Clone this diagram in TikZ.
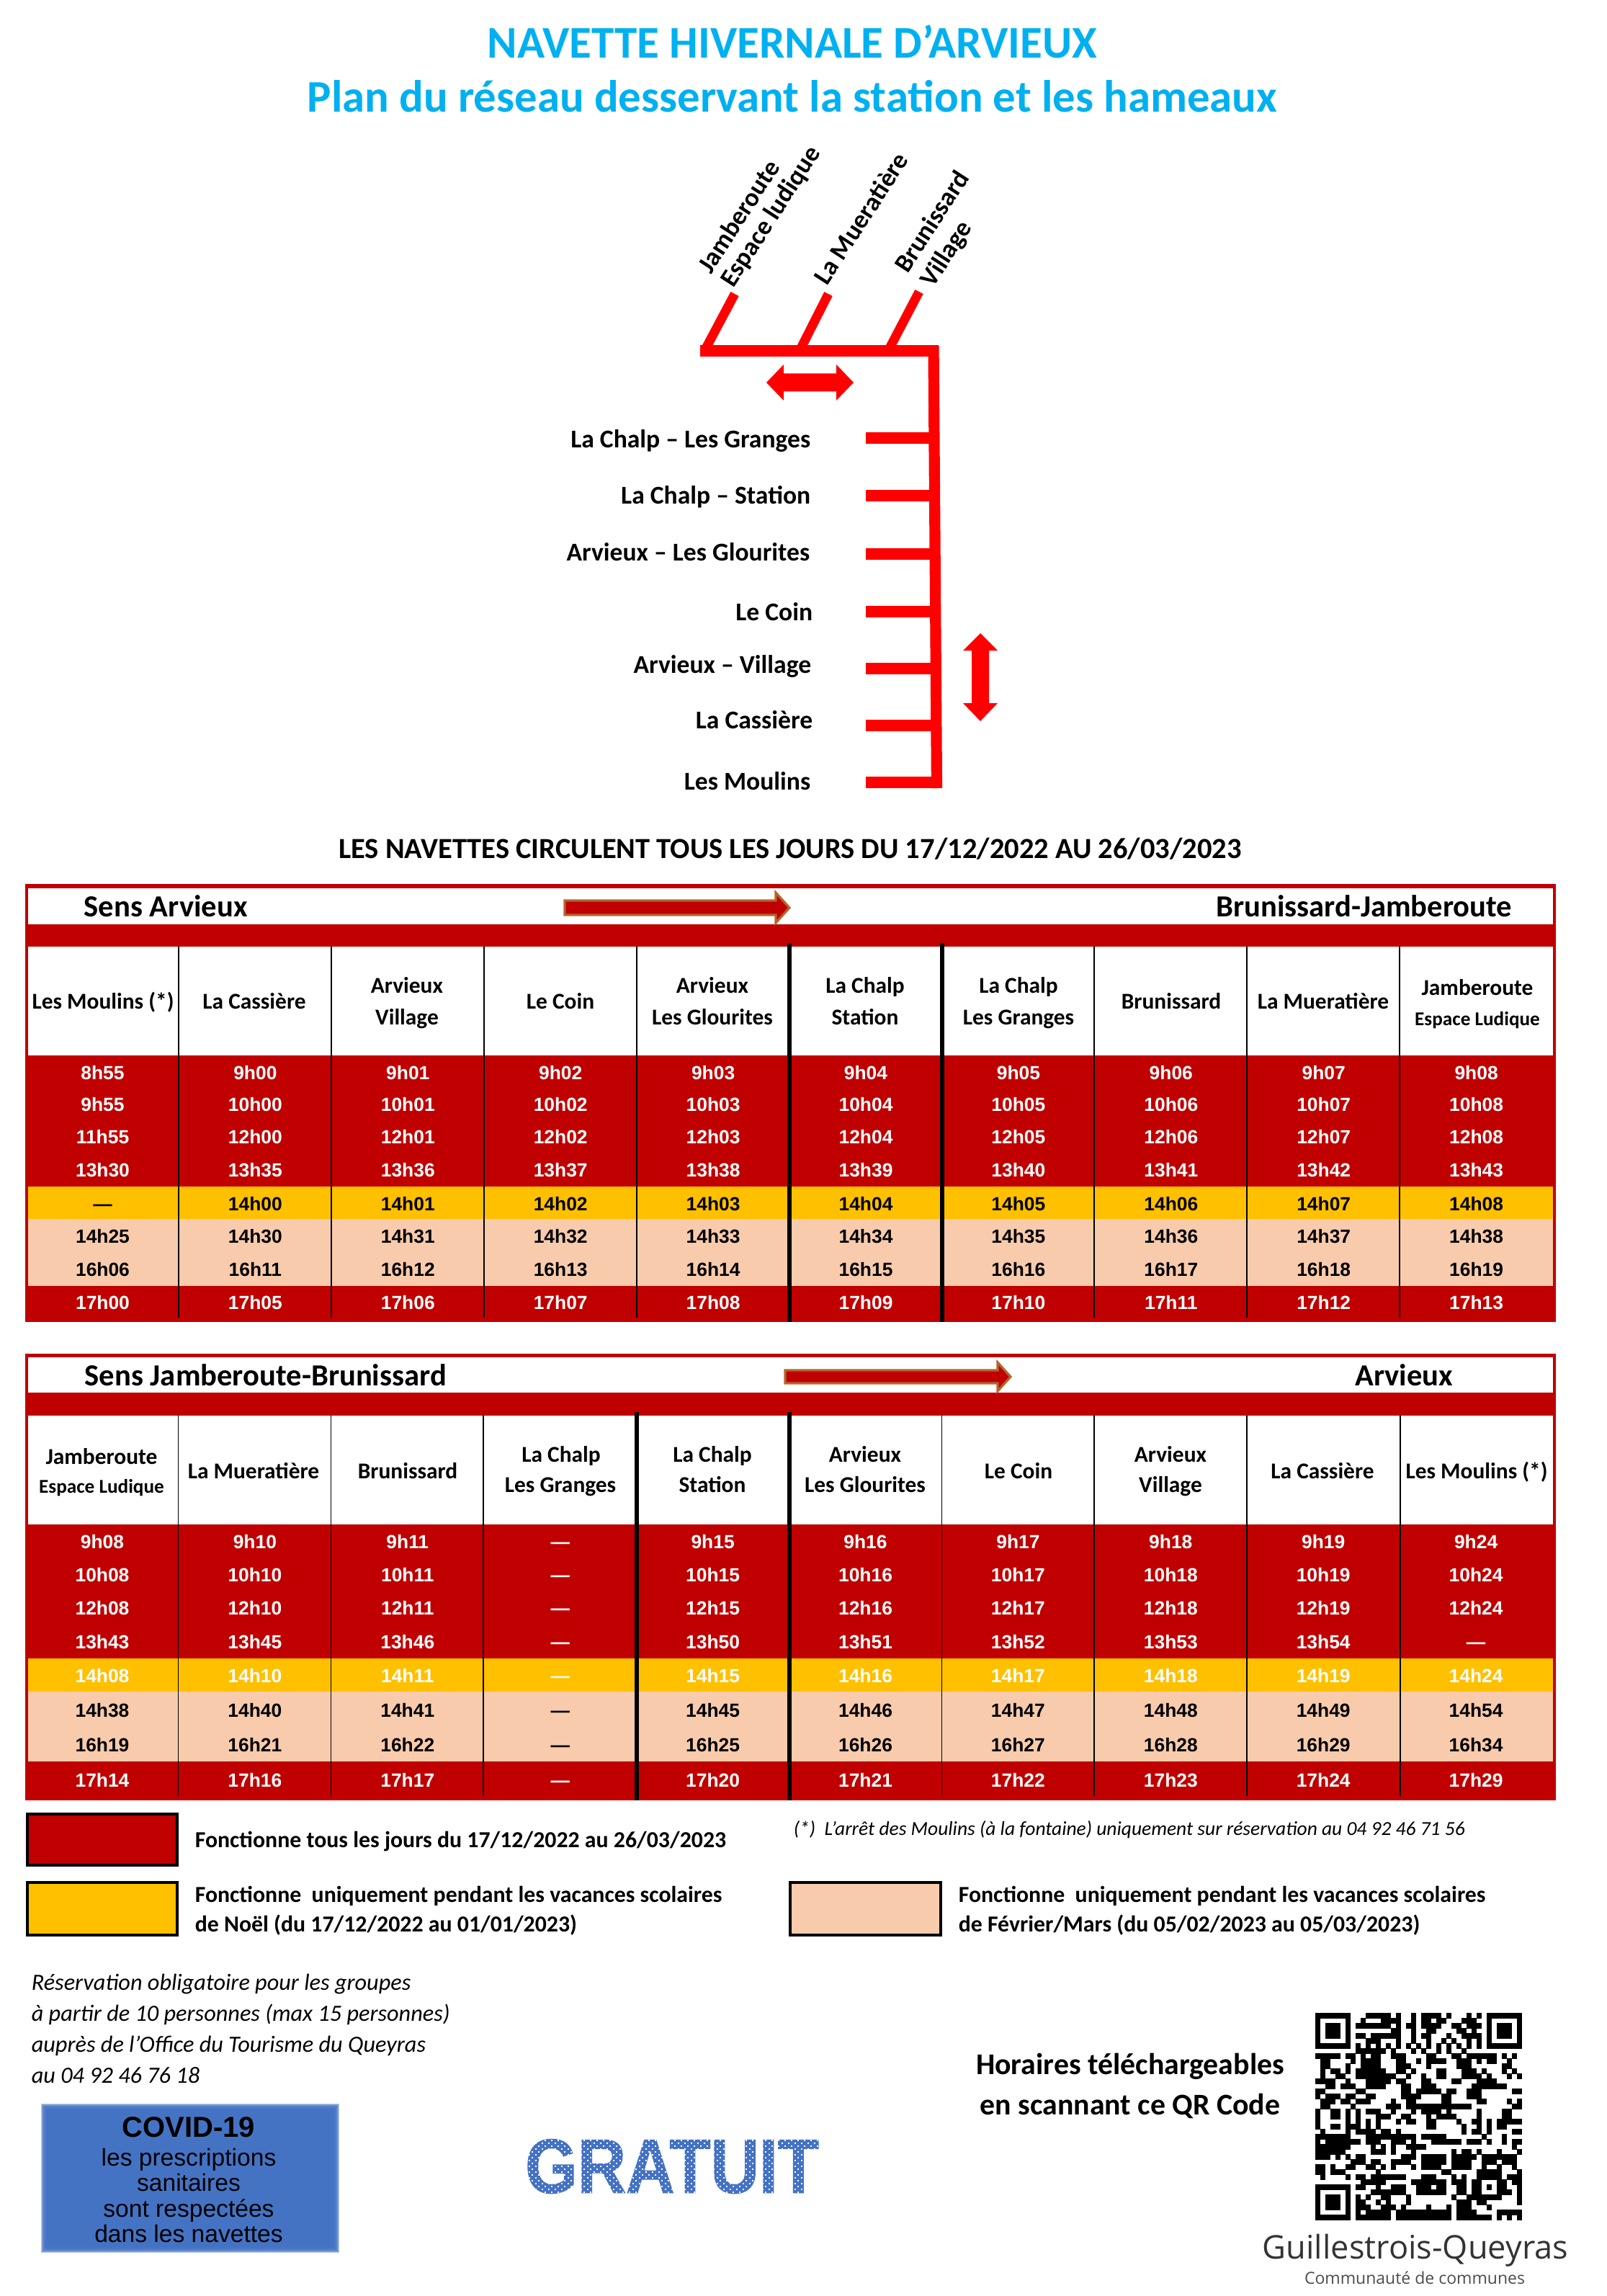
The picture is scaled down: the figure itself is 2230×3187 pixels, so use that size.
\documentclass[tikz,border=0pt]{standalone}
\usepackage{fontspec}
\setmainfont{Carlito}
\newfontfamily\arialf{Liberation Sans}
\newfontfamily\logof{Open Sans}
\definecolor{brick}{HTML}{C00000}
\definecolor{amber}{HTML}{FFC000}
\definecolor{peach}{HTML}{F8CBAD}
\definecolor{sky}{HTML}{00B0F0}
\definecolor{rawred}{HTML}{FF0000}
\definecolor{rust}{HTML}{B5652B}
\definecolor{cobalt}{HTML}{4472C4}
\newcommand{\fs}[1]{\fontsize{#1}{#1}\selectfont}
\newcount\qrcol
\newcount\qrline
\def\qrscan#1{\ifx#1\relax\else\if#11\fill[black] (\the\qrcol,\the\qrline) rectangle +(1.02,1.02);\fi\advance\qrcol by 1 \expandafter\qrscan\fi}
\def\qrrow#1{\qrcol=0 \qrscan#1\relax\advance\qrline by 1 }
\tikzset{
  timecell/.style={inner sep=0pt,font=\arialf\bfseries\fs{6.6},text height=4.75pt,text depth=0pt,anchor=center},
  hdr/.style={inner sep=0pt,font=\bfseries\fs{7.85},text height=5pt,text depth=0pt,anchor=center},
  hdrsmall/.style={hdr,font=\bfseries\fs{6.8}},
  sect/.style={inner sep=0pt,font=\bfseries\fs{10.65},text height=6.8pt,text depth=0pt},
  maplabel/.style={inner sep=0pt,font=\bfseries\fs{8.9},text height=5.7pt,text depth=0pt,anchor=east},
  rotlabel/.style={inner sep=0pt,font=\bfseries\fs{9},rotate=57,anchor=center},
  legend/.style={inner sep=0pt,font=\bfseries\fs{7.95},text height=5pt,text depth=0pt,anchor=west},
  noteital/.style={inner sep=0pt,font=\itshape\fs{8.07},text height=5.2pt,text depth=0pt,anchor=west},
  thinrule/.style={line width=0.4pt,black},
  thickrule/.style={line width=1.5pt,black},
  redline/.style={line width=3.8pt,rawred},
  legbox/.style={draw=black,line width=1.2pt},
  dirarrow/.style={fill=brick,draw=rust,line width=0.8pt,miter limit=4},
  covidtxt/.style={inner sep=0pt,font=\arialf\fs{8.4},text height=4.5pt,text depth=0pt},
}
\begin{document}
\begin{tikzpicture}[x=0.25pt,y=-0.25pt]
\useasboundingbox (0,0) rectangle (2230,3187);
% titles
\node[inner sep=0pt,font=\bfseries\fs{15.75},text=sky] (title1) at (1100,58) {NAVETTE HIVERNALE D’ARVIEUX};
\node[inner sep=0pt,font=\bfseries\fs{15.7},text=sky] (title2) at (1100,134) {Plan du réseau desservant la station et les hameaux};
% map
\coordinate (tl) at (972,487);
\coordinate (tr) at (1303,487);
\coordinate (vt) at (1296,480);
\coordinate (vb) at (1300.5,1094);
\coordinate (b1a) at (978,487); \coordinate (b1b) at (1020,408);
\coordinate (b2a) at (1110,487); \coordinate (b2b) at (1150,408);
\coordinate (b3a) at (1233,487); \coordinate (b3b) at (1276,405);
\draw[redline] (tl) -- (tr);
\draw[redline] (vt) -- (vb);
\draw[redline,line width=3.2pt] (b1a) -- (b1b);
\draw[redline,line width=3.2pt] (b2a) -- (b2b);
\draw[redline,line width=3.2pt] (b3a) -- (b3b);
\foreach \yy/\ee [count=\ki] in {608/1292,688/1292,769/1294,849/1295,928/1296,1007/1298,1086/1300}{
  \coordinate (ta\ki) at (1202,\yy);
  \coordinate (tb\ki) at (\ee,\yy);
  \draw[redline] (ta\ki) -- (tb\ki);
}
\fill[rawred] (1064,531) -- (1088,506) -- (1088,518.5) -- (1161,518.5) -- (1161,506) -- (1185,531) -- (1161,556) -- (1161,543.5) -- (1088,543.5) -- (1088,556) -- cycle;
\fill[rawred] (1361,879) -- (1385,903) -- (1373,903) -- (1373,976) -- (1385,976) -- (1361,1001) -- (1337,976) -- (1349,976) -- (1349,903) -- (1337,903) -- cycle;
\node[rotlabel] (m1) at (1025,300) {Jamberoute};
\node[rotlabel] (m2) at (1071,301) {Espace ludique};
\node[rotlabel] (m3) at (1195,303) {La Mueratière};
\node[rotlabel] (m4) at (1293,307) {Brunissard};
\node[rotlabel] (m5) at (1315,353) {Village};
\node[maplabel] (l1) at (1126,610) {La Chalp – Les Granges};
\node[maplabel] (l2) at (1126,688) {La Chalp – Station};
\node[maplabel] (l3) at (1125,767) {Arvieux – Les Glourites};
\node[maplabel] (l4) at (1129,850) {Le Coin};
\node[maplabel] (l5) at (1127,923) {Arvieux – Village};
\node[maplabel] (l6) at (1129,1000) {La Cassière};
\node[maplabel] (l7) at (1126,1085) {Les Moulins};
\node[inner sep=0pt,font=\bfseries\fs{10.13}] (sub) at (1097,1178) {LES NAVETTES CIRCULENT TOUS LES JOURS DU 17/12/2022 AU 26/03/2023};
% table 1
\fill[brick] (35,1227) rectangle (2160,1835);
\fill[white] (39,1233) rectangle (2156,1283);
\fill[white] (39,1314) rectangle (2156,1465);
\fill[amber] (39,1647) rectangle (2156,1692);
\fill[peach] (39,1692) rectangle (2156,1785);
\foreach \xx in {248,460,672,884,1519,1731,1943}{\draw[thinrule] (\xx,1314) -- (\xx,1829);}
\foreach \xx in {1096,1308}{\draw[thickrule] (\xx,1309) -- (\xx,1835);}
\draw[dirarrow] (784,1250) -- (1077,1250) -- (1077,1239) -- (1096,1260) -- (1077,1281) -- (1077,1270) -- (784,1270) -- cycle;
\node[sect,anchor=west] (s1a) at (116,1259) {Sens Arvieux};
\node[sect,anchor=east] (s1b) at (2100,1259) {Brunissard-Jamberoute};
\node[hdr] (ah1) at (143,1390) {Les Moulins (*)};
\node[hdr] (ah2) at (353,1390) {La Cassière};
\node[hdr] (ah3a) at (565,1368) {Arvieux};
\node[hdr] (ah3b) at (565,1412) {Village};
\node[hdr] (ah4) at (778,1390) {Le Coin};
\node[hdr] (ah5a) at (989,1368) {Arvieux};
\node[hdr] (ah5b) at (989,1412) {Les Glourites};
\node[hdr] (ah6a) at (1201,1368) {La Chalp};
\node[hdr] (ah6b) at (1201,1412) {Station};
\node[hdr] (ah7a) at (1414,1368) {La Chalp};
\node[hdr] (ah7b) at (1414,1412) {Les Granges};
\node[hdr] (ah8) at (1626,1390) {Brunissard};
\node[hdr] (ah9) at (1837,1390) {La Mueratière};
\node[hdr] (ah10a) at (2051,1371) {Jamberoute};
\node[hdrsmall] (ah10b) at (2051,1413) {Espace Ludique};
\foreach \row/\tc/\yy [count=\kr] in {
 {8h55,9h00,9h01,9h02,9h03,9h04,9h05,9h06,9h07,9h08}/white/1489,
 {9h55,10h00,10h01,10h02,10h03,10h04,10h05,10h06,10h07,10h08}/white/1533,
 {11h55,12h00,12h01,12h02,12h03,12h04,12h05,12h06,12h07,12h08}/white/1578,
 {13h30,13h35,13h36,13h37,13h38,13h39,13h40,13h41,13h42,13h43}/white/1624,
 {—,14h00,14h01,14h02,14h03,14h04,14h05,14h06,14h07,14h08}/black/1671,
 {14h25,14h30,14h31,14h32,14h33,14h34,14h35,14h36,14h37,14h38}/black/1716,
 {16h06,16h11,16h12,16h13,16h14,16h15,16h16,16h17,16h18,16h19}/black/1762,
 {17h00,17h05,17h06,17h07,17h08,17h09,17h10,17h11,17h12,17h13}/white/1808}{
  \foreach \v [count=\kc] in \row {
    \node[timecell,text=\tc] (a\kr-\kc) at ({142.5+211.9*(\kc-1)},\yy) {\v};
  }
}
% table 2
\fill[brick] (35,1879) rectangle (2160,2499);
\fill[white] (39,1884) rectangle (2156,1933);
\fill[white] (39,1965) rectangle (2156,2116);
\fill[amber] (39,2302) rectangle (2156,2348);
\fill[peach] (39,2348) rectangle (2156,2445);
\foreach \xx in {247.5,459.5,671,1307.5,1519,1731,1944}{\draw[thinrule] (\xx,1965) -- (\xx,2493);}
\foreach \xx in {884,1096}{\draw[thickrule] (\xx,1960) -- (\xx,2499);}
\draw[dirarrow] (1090,1902) -- (1385,1902) -- (1385,1891) -- (1403,1911) -- (1385,1931) -- (1385,1920) -- (1090,1920) -- cycle;
\node[sect,anchor=west] (s2a) at (117,1910) {Sens Jamberoute-Brunissard};
\node[sect,anchor=east] (s2b) at (2018,1910) {Arvieux};
\node[hdr] (bh1a) at (141,2022) {Jamberoute};
\node[hdrsmall] (bh1b) at (141,2062) {Espace Ludique};
\node[hdr] (bh2) at (352,2042) {La Mueratière};
\node[hdr] (bh3) at (566,2042) {Brunissard};
\node[hdr] (bh4a) at (779,2019) {La Chalp};
\node[hdr] (bh4b) at (778,2061) {Les Granges};
\node[hdr] (bh5a) at (989,2019) {La Chalp};
\node[hdr] (bh5b) at (989,2061) {Station};
\node[hdr] (bh6a) at (1201,2019) {Arvieux};
\node[hdr] (bh6b) at (1201,2061) {Les Glourites};
\node[hdr] (bh7) at (1414,2042) {Le Coin};
\node[hdr] (bh8a) at (1625,2019) {Arvieux};
\node[hdr] (bh8b) at (1625,2061) {Village};
\node[hdr] (bh9) at (1836,2042) {La Cassière};
\node[hdr] (bh10) at (2050,2042) {Les Moulins (*)};
\foreach \row/\tc/\yy [count=\kr] in {
 {9h08,9h10,9h11,—,9h15,9h16,9h17,9h18,9h19,9h24}/white/2140,
 {10h08,10h10,10h11,—,10h15,10h16,10h17,10h18,10h19,10h24}/white/2186,
 {12h08,12h10,12h11,—,12h15,12h16,12h17,12h18,12h19,12h24}/white/2232,
 {13h43,13h45,13h46,—,13h50,13h51,13h52,13h53,13h54,—}/white/2279,
 {14h08,14h10,14h11,—,14h15,14h16,14h17,14h18,14h19,14h24}/white/2326,
 {14h38,14h40,14h41,—,14h45,14h46,14h47,14h48,14h49,14h54}/black/2374,
 {16h19,16h21,16h22,—,16h25,16h26,16h27,16h28,16h29,16h34}/black/2422,
 {17h14,17h16,17h17,—,17h20,17h21,17h22,17h23,17h24,17h29}/white/2471}{
  \foreach \v [count=\kc] in \row {
    \node[timecell,text=\tc] (b\kr-\kc) at ({142+211.9*(\kc-1)},\yy) {\v};
  }
}
% legend
\draw[legbox,fill=brick] (38,2518) rectangle (246,2589);
\draw[legbox,fill=amber] (38,2613) rectangle (246,2686);
\draw[legbox,fill=peach] (1097,2613) rectangle (1306,2686);
\node[legend] (lg1) at (270,2554) {Fonctionne tous les jours du 17/12/2022 au 26/03/2023};
\node[legend] (lg2a) at (270,2630) {Fonctionne\ \ uniquement pendant les vacances scolaires};
\node[legend] (lg2b) at (270,2671) {de Noël (du 17/12/2022 au 01/01/2023)};
\node[legend] (lg3a) at (1330,2630) {Fonctionne\ \ uniquement pendant les vacances scolaires};
\node[legend] (lg3b) at (1330,2671) {de Février/Mars (du 05/02/2023 au 05/03/2023)};
\node[noteital,font=\itshape\fs{6.87}] (nt) at (1101,2537) {(*)\ \ L'arrêt des Moulins (à la fontaine) uniquement sur réservation au 04 92 46 71 56};
\node[noteital] (rs1) at (43,2752) {Réservation obligatoire pour les groupes};
\node[noteital] (rs2) at (43,2795) {à partir de 10 personnes (max 15 personnes)};
\node[noteital] (rs3) at (43,2838) {auprès de l'Office du Tourisme du Queyras};
\node[noteital] (rs4) at (43,2881) {au 04 92 46 76 18};
% covid
\foreach \ki in {0,...,9}{\fill[cobalt,opacity=0.4] ({57+\ki},{2920+\ki}) rectangle ({471-\ki},{3127-\ki});}
\node[covidtxt,font=\arialf\bfseries\fs{10},text height=6.8pt] (cv0) at (262,2953) {COVID-19};
\node[covidtxt] (cv1) at (262,2997) {les prescriptions};
\node[covidtxt] (cv2) at (262,3032) {sanitaires};
\node[covidtxt] (cv3) at (262,3068) {sont respectées};
\node[covidtxt] (cv4) at (262,3103) {dans les navettes};
% gratuit
\node[inner sep=0pt,text=cobalt,font=\arialf\bfseries\addfontfeature{FakeBold=1.5}\fs{26.5}] (free) at (933,3007) {\scalebox{.88}[1]{GRATUIT}};
\foreach \ki in {0,...,48}{\foreach \kj in {0,...,10}{
  \fill[white] ({720+9*\ki},{2962+8*\kj}) rectangle +(2.2,2.2);
  \fill[white] ({724.5+9*\ki},{2966+8*\kj}) rectangle +(2.2,2.2);
}}
% text + QR
\node[inner sep=0pt,font=\bfseries\fs{10.45}] (qt1) at (1569,2868) {Horaires téléchargeables};
\node[inner sep=0pt,font=\bfseries\fs{10.45}] (qt2) at (1569,2923) {en scannant ce QR Code};
\begin{scope}[x=1.75pt,y=-1.75pt,shift={(260.86,399.2)}]
\qrline=0
\qrrow{11111110001111101001011110100010101111111}
\qrrow{10000010010001111001011011000111001000001}
\qrrow{10111010111111101011011110011011101011101}
\qrrow{10111010000000011001001100001101001011101}
\qrrow{10111010110111111001011000100111101011101}
\qrrow{10000010001110001001001001010010101000001}
\qrrow{11111110101010101010101010101010101111111}
\qrrow{00000000111111010001010010100100000000000}
\qrrow{11111011010110011100001100011011111101010}
\qrrow{01100001011110001100101111001110101100100}
\qrrow{01100010011110001110001000001110000001100}
\qrrow{01011010111111001101000011000111010001010}
\qrrow{01001100111111110010010011000111101000101}
\qrrow{11110010001111101100011000011000111100000}
\qrrow{00110111001111000110011100000001111111000}
\qrrow{11000000110000000110111110110011100000011}
\qrrow{10111011001100000111100001100011100000000}
\qrrow{01110110111000010011000001100000110000101}
\qrrow{01100001000000111011111111111110000000011}
\qrrow{10011010101110010001011110100000100001100}
\qrrow{10011010100011100110001011110000100001100}
\qrrow{10000010101010001011001100001001101011111}
\qrrow{10011011101010000000001100000100101011000}
\qrrow{01000010111101101000000000000101101000011}
\qrrow{11111110001111111111011111000000010001000}
\qrrow{10111111101110011101000111111011101001011}
\qrrow{11111110000101010011110000000000000000010}
\qrrow{11111100000111010001000000010110100010001}
\qrrow{11101010110000000111011111011111011111110}
\qrrow{00000001110110011110011111011110011101110}
\qrrow{11010011001101010001011110011110010010010}
\qrrow{11011100000010000000000001100000111110001}
\qrrow{01000010110111111100011100010100111110111}
\qrrow{00000000011111000001111111011101100011011}
\qrrow{11111110110010011100111011001101101011001}
\qrrow{10000010000111111100111111001101100011101}
\qrrow{10111010101001100010000000010011111110001}
\qrrow{10111010110010100010000000001110110000001}
\qrrow{10111010111001110100001000101110001000000}
\qrrow{10000010101111101111111111101111000011111}
\qrrow{11111110111111101111111111101111111010101}
\end{scope}
% logo
\node[inner sep=0pt,text=black!80,font=\logof\fs{11.3}] (lg) at (1965,3124) {Guillestrois-Queyras};
\node[inner sep=0pt,text=black!70,font=\logof\fs{5.75}] (lgs) at (1964,3162) {Communauté de communes};
\end{tikzpicture}
\end{document}
